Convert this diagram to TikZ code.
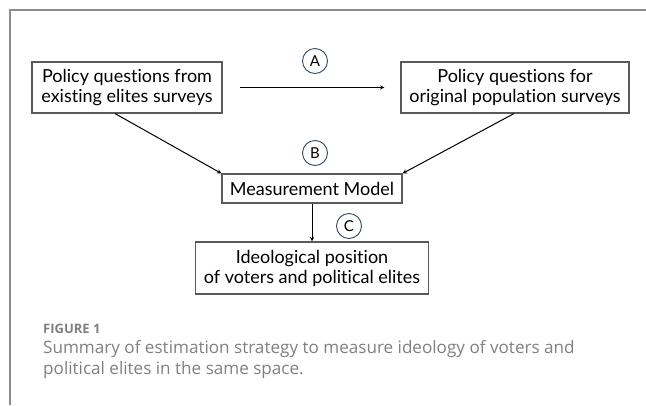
\documentclass[tikz,border=0pt]{standalone}
\usepackage{fontspec}
\setmainfont{Lato}[Ligatures=NoCommon]
\newfontfamily\captionfont{Open Sans}
\usepackage{xcolor}
\usetikzlibrary{arrows}
\definecolor{framegray}{HTML}{8C8C8C}
\definecolor{boxgray}{HTML}{5A5A5A}
\definecolor{tagblue}{HTML}{34495E}
\definecolor{captiongray}{HTML}{808080}
\tikzset{
  stagebox/.style={draw=boxgray, line width=1.1pt, align=center, inner sep=0pt,
    font=\fontsize{18}{20}\selectfont},
  steplabel/.style={circle, draw=tagblue, line width=0.9pt, minimum size=25pt,
    inner sep=0pt, font=\fontsize{15}{15}\selectfont},
  flow/.style={->, line width=1pt},
}

\begin{document}
\begin{tikzpicture}[
  x=1pt, y=-1pt,
  >=stealth,
]

  \useasboundingbox (0,0) rectangle (646,405);

  % Open frame (left and top only)
  \draw[framegray, line width=1.3pt] (10,405) -- (10,10) -- (646,10);

  % Survey sources
  \node[stagebox, minimum width=190pt, minimum height=51pt] (elites) at (127,87.5)
    {Policy questions from\\existing elites surveys};
  \node[stagebox, minimum width=228pt, minimum height=51pt] (population) at (515,87.5)
    {Policy questions for\\original population surveys};

  % Model and result
  \node[stagebox, minimum width=180pt, minimum height=29pt] (model) at (312,188.5)
    {Measurement Model};
  \node[stagebox, minimum width=233pt, minimum height=52pt] (ideology) at (312,268)
    {Ideological position\\of voters and political elites};

  % Step markers
  \node[steplabel] (stepA) at (315,61)  {A};
  \node[steplabel] (stepB) at (315,153) {B};
  \node[steplabel] (stepC) at (349,226) {C};

  % Flows
  \draw[flow] ([xshift=17pt]elites.east) -- ([xshift=-16pt]population.west);
  \draw[flow] ([xshift=-12pt]elites.south) -- (model.north west);
  \draw[flow] ([xshift=-1pt]population.south) -- (model.north east);
  \draw[flow] (model) -- (ideology);

  % Caption (base anchor sits on the last line)
  \node[anchor=base west, inner sep=0pt, text=captiongray,
    font=\captionfont\bfseries\fontsize{13}{14}\selectfont] (figlabel) at (43,333) {FIGURE 1};
  \node[anchor=base west, inner sep=0pt, align=left, text=captiongray,
    font=\captionfont\fontsize{17.1}{21}\selectfont] (caption) at (43,374)
    {Summary of estimation strategy to measure ideology of voters and\\
     political elites in the same space.};

\end{tikzpicture}
\end{document}
